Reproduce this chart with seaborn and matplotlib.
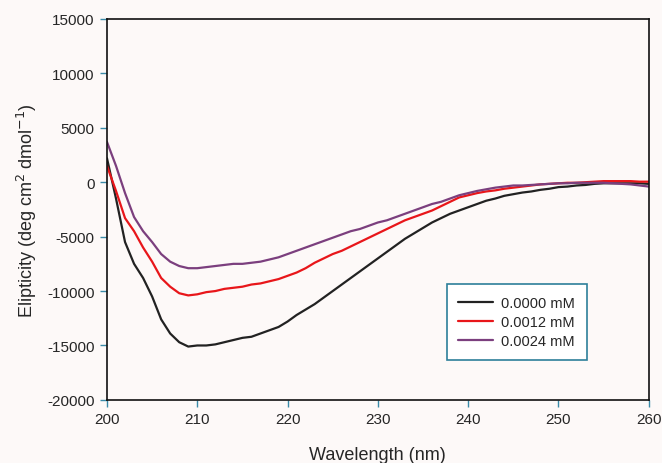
import numpy as np
import pandas as pd
import matplotlib
matplotlib.use("Agg")
import matplotlib.pyplot as plt
import seaborn as sns

# wavelength grid (nm)
wavelength = list(range(200, 261))

# ellipticity readings for each concentration
conc_0000 = [2200, -1500, -5500, -7500, -8800, -10500, -12600, -13900, -14700, -15100,
             -15000, -15000, -14900, -14700, -14500, -14300, -14200, -13900, -13600, -13300,
             -12800, -12200, -11700, -11200, -10600, -10000, -9400, -8800, -8200, -7600,
             -7000, -6400, -5800, -5200, -4700, -4200, -3700, -3300, -2900, -2600,
             -2300, -2000, -1700, -1500, -1250, -1100, -950, -850, -700, -600,
             -450, -400, -300, -250, -150, -100, -100, -100, -100, -100, -150]
conc_0012 = [1500, -800, -3300, -4500, -6000, -7300, -8800, -9600, -10200, -10400,
             -10300, -10100, -10000, -9800, -9700, -9600, -9400, -9300, -9100, -8900,
             -8600, -8300, -7900, -7400, -7000, -6600, -6300, -5900, -5500, -5100,
             -4700, -4300, -3900, -3500, -3200, -2900, -2600, -2200, -1800, -1400,
             -1200, -1000, -850, -750, -600, -500, -400, -300, -200, -150,
             -100, -50, -50, 0, 50, 100, 100, 100, 100, 50, 50]
conc_0024 = [3700, 1500, -1000, -3200, -4500, -5500, -6600, -7300, -7700, -7900,
             -7900, -7800, -7700, -7600, -7500, -7500, -7400, -7300, -7100, -6900,
             -6600, -6300, -6000, -5700, -5400, -5100, -4800, -4500, -4300, -4000,
             -3700, -3500, -3200, -2900, -2600, -2300, -2000, -1800, -1500, -1200,
             -1000, -800, -650, -500, -400, -300, -300, -250, -200, -150,
             -100, -100, -50, -50, -50, -50, -100, -150, -200, -300, -400]

labels = ["0.0000 mM", "0.0012 mM", "0.0024 mM"]
colors = ["#222222", "#e8161a", "#7b3f7e"]

df = pd.concat([
    pd.DataFrame({"Wavelength": wavelength, "Ellipticity": vals, "Concentration": lab})
    for vals, lab in zip([conc_0000, conc_0012, conc_0024], labels)
])

sns.set_style("ticks")
plt.rcParams['font.family'] = ['Liberation Sans', 'DejaVu Sans']
plt.rcParams['axes.unicode_minus'] = False

bg = "#fdf9f8"
fig = plt.figure(figsize=(6.62, 4.64), dpi=100, facecolor=bg)
ax = fig.add_axes([0.1616, 0.136, 0.8184, 0.821])
ax.set_facecolor(bg)

sns.lineplot(data=df, x="Wavelength", y="Ellipticity", hue="Concentration",
             hue_order=labels, palette=colors, linewidth=1.6, ax=ax)

ax.set_xlim(200, 260)
ax.set_ylim(-20000, 15000)
ax.set_xticks(range(200, 261, 10))
ax.set_yticks(range(-20000, 15001, 5000))
for s in ax.spines.values():
    s.set_visible(True)
    s.set_color("#111111")
    s.set_linewidth(1.2)
ax.tick_params(direction="out", length=5, width=1, color="#3a8aa8",
               labelsize=11, pad=4)
ax.tick_params(axis="x", pad=4)

ax.set_xlabel("Wavelength (nm)", fontsize=13, labelpad=14)
ax.set_ylabel("Elipticity (deg cm$^2$ dmol$^{-1}$)", fontsize=13, labelpad=6)

leg = ax.legend(loc="upper left", bbox_to_anchor=(0.627, 0.304), borderaxespad=0,
                fontsize=10.5, frameon=True, fancybox=False, handlelength=2.4,
                borderpad=0.8, labelspacing=0.35, handletextpad=0.55)
leg.get_frame().set_edgecolor("#2d7f9a")
leg.get_frame().set_linewidth(1.2)
leg.get_frame().set_facecolor("white")
leg.get_frame().set_alpha(1)
for line in leg.get_lines():
    line.set_linewidth(1.6)

fig.savefig("out.png", dpi=100, facecolor=bg)
